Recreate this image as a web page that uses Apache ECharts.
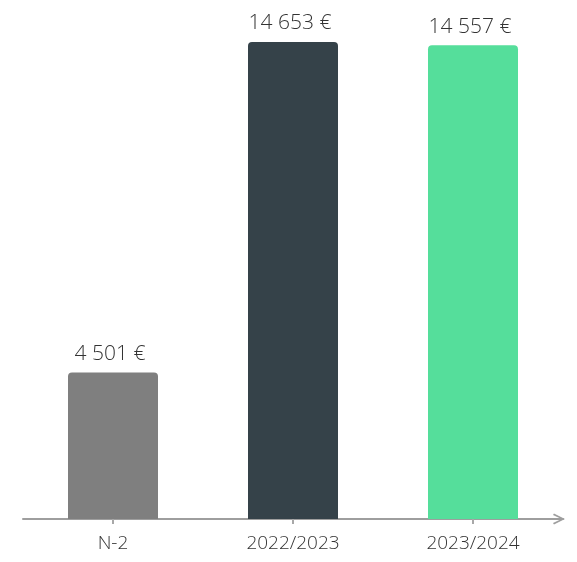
<!DOCTYPE html>
<html>
<head>
<meta charset="utf-8">
<script src="https://cdn.jsdelivr.net/npm/echarts@6/dist/echarts.min.js"></script>
<style>
  html, body { margin: 0; padding: 0; background: #fff; }
  #chart { width: 577px; height: 562px; }
</style>
</head>
<body>
<div id="chart"></div>
<script>
const categories = ['N-2', '2022/2023', '2023/2024']
const values = [4501, 14653, 14557]
const barColors = ['#7f7f7f', '#354249', '#55de9b']

const fmt = (v) => String(v).replace(/\B(?=(\d{3})+(?!\d))/g, ' ') + ' €'

const chart = echarts.init(document.getElementById('chart'))

// open chevron arrow at the end of the axis
const chevron = 'path://M0,10 L5,0 L10,10 L8.7,10.9 L5,3.2 L1.3,10.9 Z'

chart.setOption({
  animation: false,
  grid: { left: 23, right: 14, top: 42, bottom: 43 },
  xAxis: [
    {
      type: 'category',
      data: categories,
      boundaryGap: true,
      axisLine: {
        show: true,
        symbol: ['none', chevron],
        symbolSize: [15, 12],
        symbolOffset: [0, -4],
        lineStyle: { color: '#9e9e9e', width: 2 }
      },
      axisTick: {
        show: true,
        alignWithLabel: true,
        length: 5,
        lineStyle: { color: '#a8a8a8', width: 2 }
      },
      axisLabel: {
        color: '#333',
        fontSize: 19,
        fontFamily: 'Open Sans',
        fontWeight: 300,
        margin: 15
      }
    },
    {
      type: 'category',
      data: categories,
      position: 'bottom',
      boundaryGap: true,
      axisLine: { show: false },
      axisLabel: { show: false },
      axisTick: {
        show: true,
        inside: true,
        alignWithLabel: true,
        length: 5,
        lineStyle: { color: '#a8a8a8', width: 2 }
      }
    }
  ],
  yAxis: {
    type: 'value',
    min: 0,
    max: 14653,
    show: false,
    splitLine: { show: false }
  },
  series: [
    {
      type: 'bar',
      barWidth: 90,
      data: values.map((v, i) => ({ value: v, itemStyle: { color: barColors[i] } })),
      itemStyle: { borderRadius: [4, 4, 0, 0] },
      label: {
        show: true,
        position: 'top',
        distance: 8,
        color: '#333',
        fontSize: 21,
        fontFamily: 'Open Sans',
        fontWeight: 300,
        offset: [-3, 0],
        formatter: (p) => fmt(p.value)
      }
    }
  ]
})
</script>
</body>
</html>
